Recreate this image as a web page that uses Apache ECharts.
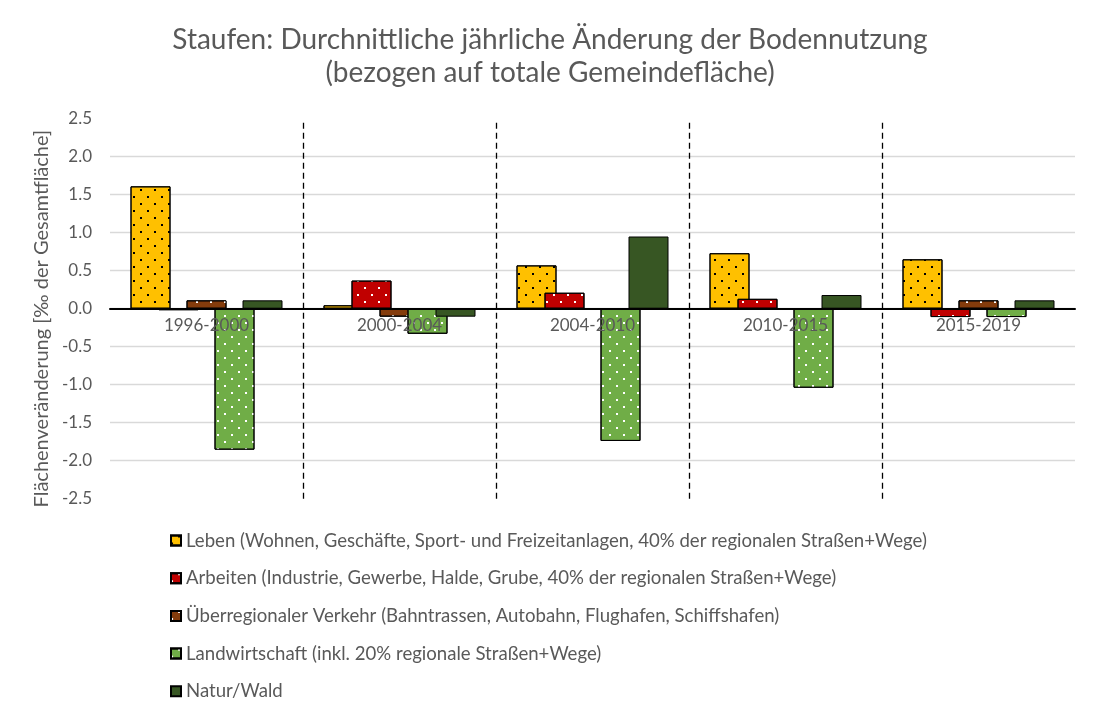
<!DOCTYPE html>
<html>
<head>
<meta charset="utf-8">
<script src="https://cdn.jsdelivr.net/npm/echarts@6/dist/echarts.min.js"></script>
<style>html,body{margin:0;padding:0;background:#fff}#c{width:1100px;height:718px}</style>
</head>
<body>
<div id="c"></div>
<script>
const categories = ['1996-2000', '2000-2004', '2004-2010', '2010-2015', '2015-2019'];
const seriesNames = [
  'Leben (Wohnen, Geschäfte, Sport- und Freizeitanlagen, 40% der regionalen Straßen+Wege)',
  'Arbeiten (Industrie, Gewerbe, Halde, Grube, 40% der regionalen Straßen+Wege)',
  'Überregionaler Verkehr (Bahntrassen, Autobahn, Flughafen, Schiffshafen)',
  'Landwirtschaft (inkl. 20% regionale Straßen+Wege)',
  'Natur/Wald'
];
const leben = [1.61, 0.045, 0.57, 0.73, 0.65];
const arbeiten = [-0.02, 0.37, 0.21, 0.13, -0.11];
const verkehr = [0.11, -0.105, 0, 0, 0.11];
const landwirtschaft = [-1.855, -0.33, -1.74, -1.04, -0.11];
const natur = [0.11, -0.105, 0.95, 0.18, 0.11];
const separators = [1, 2, 3, 4];
const yTicks = { min: -2.5, max: 2.5, interval: 0.5 };

const colors = ['#FFC000', '#C00000', '#843C0C', '#70AD47', '#375623'];
const dotColors = ['#000000', '#ffffff', '#ffffff', '#ffffff', null];
const values = [leben, arbeiten, verkehr, landwirtschaft, natur];
const FONT = 'Lato, "Open Sans", sans-serif';
const GRAY = '#595959';

const GRID_TOP = 118.7, GRID_BOTTOM = 219.3, H = 718;
const plotH = H - GRID_TOP - GRID_BOTTOM;
// distance of the value 0 above the grid bottom, so the category labels sit at the zero line
const zeroOffset = plotH * (0 - yTicks.min) / (yTicks.max - yTicks.min);

function decalFor(c) {
  if (!c) return null;
  return {
    symbol: 'rect',
    symbolSize: 1,
    color: c,
    backgroundColor: null,
    dashArrayX: [[2, 11.3], [0, 6.6, 2, 4.7]],
    dashArrayY: [2, 4.7]
  };
}

const series = values.map((v, i) => {
  const s = {
    name: seriesNames[i],
    type: 'bar',
    data: v,
    barWidth: 40,
    barGap: '-30%',
    itemStyle: { color: colors[i], borderColor: '#000', borderWidth: 1 }
  };
  const d = decalFor(dotColors[i]);
  if (d) s.itemStyle.decal = d;
  return s;
});

series.push({
  type: 'line',
  xAxisIndex: 1,
  data: [],
  silent: true,
  markLine: {
    silent: true,
    symbol: ['none', 'none'],
    label: { show: false },
    lineStyle: { color: '#000', type: [6, 4], width: 1.3 },
    data: separators.map(s => ({ xAxis: s }))
  }
});

const chart = echarts.init(document.getElementById('c'), null, { renderer: 'canvas' });
chart.setOption({
  backgroundColor: '#fff',
  animation: false,
  title: {
    text: 'Staufen: Durchnittliche jährliche Änderung der Bodennutzung\n(bezogen auf totale Gemeindefläche)',
    left: 'center',
    top: 18,
    textStyle: { fontFamily: FONT, fontSize: 28, fontWeight: 'normal', color: GRAY, lineHeight: 33 }
  },
  legend: {
    orient: 'vertical',
    left: 165,
    top: 526,
    itemWidth: 10,
    itemHeight: 10,
    itemGap: 18.7,
    icon: 'rect',
    textStyle: { fontFamily: FONT, fontSize: 18.6, color: GRAY, lineHeight: 18 },
    data: seriesNames
  },
  grid: { left: 110, right: 25, top: GRID_TOP, bottom: GRID_BOTTOM, containLabel: false },
  xAxis: [{
    type: 'category',
    data: categories,
    z: 10,
    position: 'bottom',
    offset: -zeroOffset,
    axisLine: { onZero: false, lineStyle: { color: '#000', width: 2 } },
    axisTick: { show: false },
    splitLine: { show: false },
    axisLabel: { fontFamily: FONT, fontSize: 17, color: GRAY, margin: 8 }
  }, {
    type: 'value',
    min: 0, max: categories.length,
    show: false
  }],
  yAxis: {
    type: 'value',
    min: yTicks.min,
    max: yTicks.max,
    interval: yTicks.interval,
    name: 'Flächenveränderung [‰ der Gesamtfläche]',
    nameLocation: 'middle',
    nameGap: 57,
    nameTextStyle: { fontFamily: FONT, fontSize: 20, color: GRAY, padding: [0, 20, 0, 0] },
    axisLine: { show: false },
    axisTick: { show: false },
    axisLabel: { fontFamily: FONT, fontSize: 17, color: GRAY, margin: 18, formatter: v => v.toFixed(1) },
    splitLine: { show: true, showMinLine: false, showMaxLine: false, lineStyle: { color: '#D9D9D9', width: 1.3 } }
  },
  series: series
});
</script>
</body>
</html>
